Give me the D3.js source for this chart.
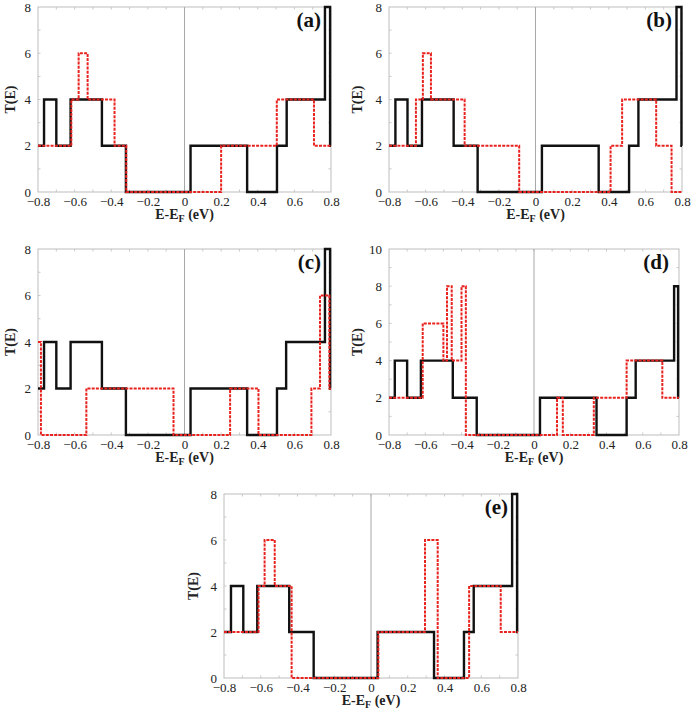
<!DOCTYPE html>
<html>
<head>
<meta charset="utf-8">
<script src="https://cdn.jsdelivr.net/npm/d3@7"></script>
<style>
  html,body{margin:0;padding:0;background:#fff;}
  svg{display:block;}
</style>
</head>
<body>
<svg id="fig" width="691" height="722"></svg>
<script>
// step data: [energy where the step starts, T(E)]; last point closes the range at 0.8
const xTicks = [-0.8,-0.6,-0.4,-0.2,0,0.2,0.4,0.6,0.8];
const yTicks8 = [0,2,4,6,8];
const yTicks10 = [0,2,4,6,8,10];

const aBlack = [[-0.8,2],[-0.767,4],[-0.70,2],[-0.622,4],[-0.451,2],[-0.32,0],[0.033,2],[0.342,0],[0.505,2],[0.558,4],[0.767,8],[0.795,2],[0.8,2]];
const aRed   = [[-0.8,2],[-0.618,4],[-0.578,6],[-0.529,4],[-0.382,2],[-0.318,0],[0.2,2],[0.504,4],[0.707,2],[0.8,2]];

const bBlack = [[-0.8,2],[-0.765,4],[-0.699,2],[-0.62,4],[-0.447,2],[-0.316,0],[0.035,2],[0.345,0],[0.511,2],[0.562,4],[0.77,8],[0.797,2],[0.8,2]];
const bRed   = [[-0.8,2],[-0.653,4],[-0.615,6],[-0.571,4],[-0.387,2],[-0.089,0],[0.41,2],[0.473,4],[0.659,2],[0.743,0],[0.8,0]];

const cBlack = [[-0.8,2],[-0.767,4],[-0.70,2],[-0.622,4],[-0.451,2],[-0.32,0],[0.033,2],[0.342,0],[0.505,2],[0.555,4],[0.767,8],[0.795,2],[0.8,2]];
const cRed   = [[-0.8,4],[-0.784,0],[-0.536,2],[-0.06,0],[0.249,2],[0.404,0],[0.693,2],[0.74,6],[0.791,2],[0.8,2]];

const dBlack = [[-0.8,2],[-0.768,4],[-0.70,2],[-0.624,4],[-0.448,2],[-0.316,0],[0.033,2],[0.345,0],[0.511,2],[0.561,4],[0.773,8],[0.795,2],[0.8,2]];
const dRed   = [[-0.8,2],[-0.614,6],[-0.50,4],[-0.48,8],[-0.454,4],[-0.40,8],[-0.376,0],[0.127,2],[0.159,0],[0.33,2],[0.511,4],[0.708,2],[0.8,2]];

const eBlack = [[-0.8,2],[-0.762,4],[-0.695,2],[-0.619,4],[-0.445,2],[-0.312,0],[0.036,2],[0.343,0],[0.506,2],[0.559,4],[0.768,8],[0.795,2],[0.8,2]];
const eRed   = [[-0.8,2],[-0.612,4],[-0.579,6],[-0.524,4],[-0.432,0],[0.04,2],[0.294,6],[0.363,0],[0.534,4],[0.706,2],[0.8,2]];

const panels = [
  {lbl:'(a)', x0:38,  x1:331, y0:7,   y1:192, ymax:8,  yt:yTicks8,  ty:28, black:aBlack, red:aRed},
  {lbl:'(b)', x0:389, x1:682, y0:7,   y1:192, ymax:8,  yt:yTicks8,  ty:32, black:bBlack, red:bRed},
  {lbl:'(c)', x0:38,  x1:331, y0:249, y1:435, ymax:8,  yt:yTicks8,  ty:28, black:cBlack, red:cRed},
  {lbl:'(d)', x0:389, x1:679, y0:249, y1:435, ymax:10, yt:yTicks10, ty:32, black:dBlack, red:dRed},
  {lbl:'(e)', x0:224, x1:518, y0:494, y1:678, ymax:8,  yt:yTicks8,  ty:31, black:eBlack, red:eRed}
];

const SERIF = '"Liberation Serif","Times New Roman","DejaVu Serif",serif';
const svg = d3.select('#fig');

function drawPanel(p){
  const x = d3.scaleLinear().domain([-0.8,0.8]).range([p.x0,p.x1]);
  const y = d3.scaleLinear().domain([0,p.ymax]).range([p.y1,p.y0]);
  const g = svg.append('g');

  // frame
  g.append('rect').attr('x',p.x0).attr('y',p.y0).attr('width',p.x1-p.x0).attr('height',p.y1-p.y0)
    .attr('fill','none').attr('stroke','#bdbdbd').attr('stroke-width',1);

  // small inner ticks (0.1 on x, 1 on y)
  const minorX = d3.range(-0.7,0.8,0.1);
  const minorY = d3.range(1,p.ymax,1);
  const tk = g.append('g').attr('stroke','#c8c8c8').attr('stroke-width',1);
  minorX.forEach(v=>{
    tk.append('line').attr('x1',x(v)).attr('x2',x(v)).attr('y1',p.y1).attr('y2',p.y1-2.5);
    tk.append('line').attr('x1',x(v)).attr('x2',x(v)).attr('y1',p.y0).attr('y2',p.y0+2.5);
  });
  minorY.forEach(v=>{
    tk.append('line').attr('x1',p.x0).attr('x2',p.x0+2.5).attr('y1',y(v)).attr('y2',y(v));
    tk.append('line').attr('x1',p.x1).attr('x2',p.x1-2.5).attr('y1',y(v)).attr('y2',y(v));
  });

  // Fermi level
  g.append('line').attr('x1',x(0)).attr('x2',x(0)).attr('y1',p.y0).attr('y2',p.y1)
    .attr('stroke','#a8a8a8').attr('stroke-width',1);

  // axes via d3 (labels only, domain hidden)
  const xa = g.append('g').attr('transform',`translate(0,${p.y1})`)
    .call(d3.axisBottom(x).tickValues(xTicks).tickSize(0).tickPadding(5).tickFormat(d=>d===0?'0':d3.format('.1f')(d)));
  const ya = g.append('g').attr('transform',`translate(${p.x0},0)`)
    .call(d3.axisLeft(y).tickValues(p.yt).tickSize(0).tickPadding(7).tickFormat(d3.format('d')));
  [xa,ya].forEach(a=>{
    a.select('.domain').remove();
    a.attr('font-family',null).attr('font-size',null);
    a.selectAll('text').style('font-family',SERIF).style('font-size','13px').style('fill','#222');
  });

  // curves
  const line = d3.line().x(d=>x(d[0])).y(d=>y(d[1])).curve(d3.curveStepAfter);
  g.append('path').datum(p.black).attr('d',line).attr('fill','none')
    .attr('stroke','#111').attr('stroke-width',2.4).attr('stroke-linejoin','miter');
  g.append('path').datum(p.red).attr('d',line).attr('fill','none')
    .attr('stroke','#e8221e').attr('stroke-width',2).attr('stroke-dasharray','3,1.2');

  // titles
  const xt = g.append('text').attr('text-anchor','middle')
    .style('font-family',SERIF).style('font-size','14px').style('font-weight','bold').style('fill','#222')
    .attr('x',(p.x0+p.x1)/2).attr('y',p.y1+27);
  xt.append('tspan').text('E-E');
  xt.append('tspan').text('F').style('font-size','10px').attr('dy',3);
  xt.append('tspan').text(' (eV)').attr('dy',-3);

  g.append('text').attr('text-anchor','middle')
    .style('font-family',SERIF).style('font-size','14px').style('font-weight','bold').style('fill','#222')
    .attr('transform',`translate(${p.x0-p.ty+5},${(p.y0+p.y1)/2}) rotate(-90)`).text('T(E)');

  g.append('text').attr('text-anchor','end')
    .style('font-family',SERIF).style('font-size','21px').style('font-weight','bold').style('fill','#111')
    .attr('x',p.x1-10).attr('y',p.y0+20).text(p.lbl);
}

panels.forEach(drawPanel);
</script>
</body>
</html>
